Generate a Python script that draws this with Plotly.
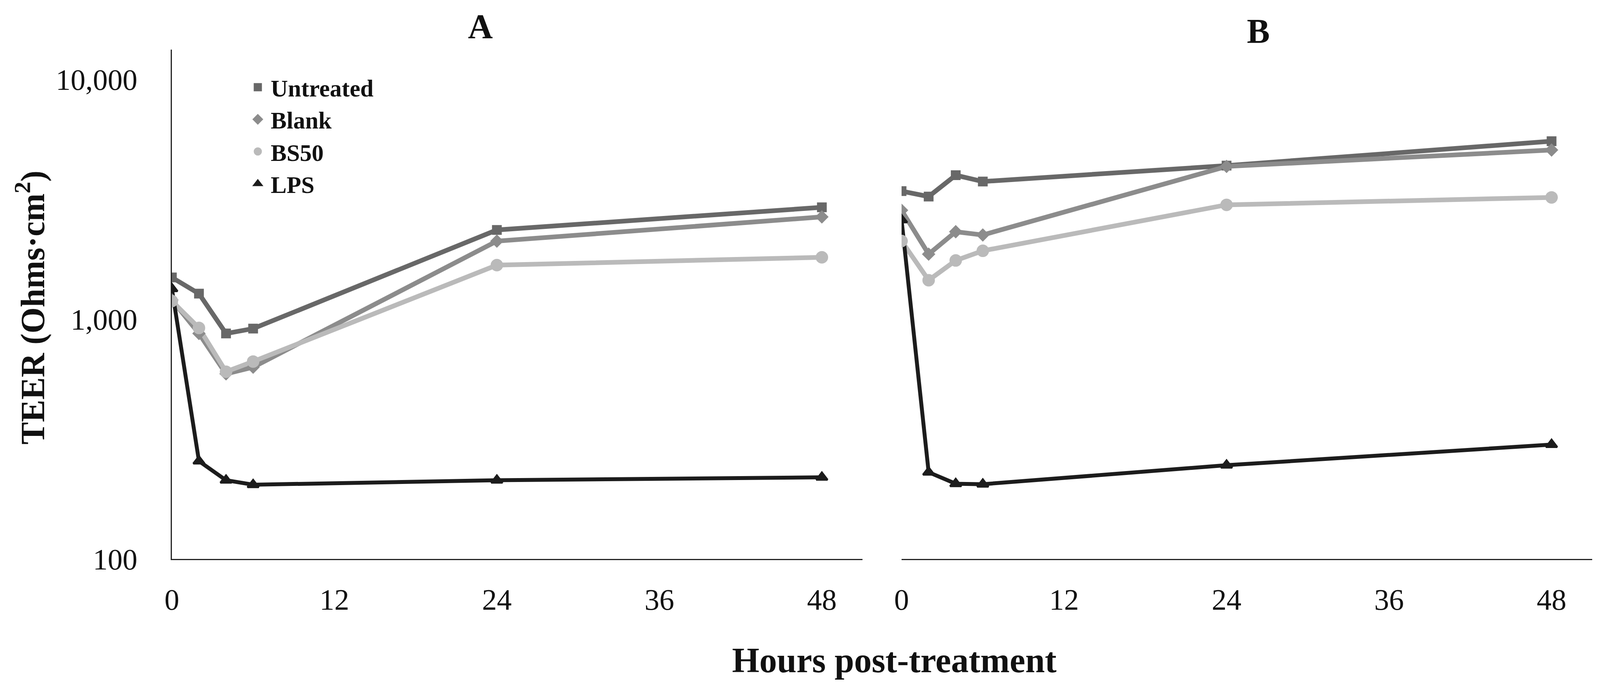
import plotly.graph_objects as go

hours = [0, 2, 4, 6, 24, 48]

a_untreated = [1494, 1279, 872, 914, 2358, 2931]
a_blank = [1204, 872, 592, 631, 2118, 2673]
a_bs50 = [1191, 920, 604, 666, 1682, 1813]
a_lps = [1341, 256, 213, 204, 213, 219]

b_untreated = [3425, 3250, 3990, 3755, 4375, 5530]
b_blank = [2849, 1869, 2319, 2247, 4341, 5082]
b_bs50 = [2121, 1455, 1759, 1930, 3002, 3224]
b_lps = [2598, 230, 206, 205, 246, 300]

series_names = ["Untreated", "Blank", "BS50", "LPS"]
x_ticks = [0, 12, 24, 36, 48]
y_ticks = [100, 1000, 10000]
y_tick_text = ["100", "1,000", "10,000"]

colors = ["#686868", "#8c8c8c", "#bababa", "#1c1c1c"]
symbols = ["square", "diamond", "circle", "triangle-up"]
msizes = [20, 21, 27, 25]
lwidths = [12, 12, 12, 10]

W, H = 4155, 1764
ML, MR, MT, MB = 432, 87, 119, 341
PW = W - ML - MR
PH = H - MT - MB
FONT = "Liberation Serif"


def px(x):
    return (x - ML) / PW


def py(y):
    return 1 - (y - MT) / PH


fig = go.Figure()

panels = [
    ("x", "y", [a_untreated, a_blank, a_bs50, a_lps]),
    ("x2", "y2", [b_untreated, b_blank, b_bs50, b_lps]),
]

for pi, (xa, ya, data) in enumerate(panels):
    for si, vals in enumerate(data):
        fig.add_trace(go.Scatter(
            x=hours, y=vals, xaxis=xa, yaxis=ya, mode="lines",
            line=dict(color=colors[si], width=lwidths[si]),
            showlegend=False, hoverinfo="skip",
        ))
    for si, vals in enumerate(data):
        fig.add_trace(go.Scatter(
            x=hours, y=vals, xaxis=xa, yaxis=ya, mode="markers",
            marker=dict(color=colors[si], symbol=symbols[si], size=msizes[si],
                        line=dict(color=colors[si], width=5)),
            name=series_names[si], showlegend=(pi == 0),
        ))

dA = [0, px(2200)]
dB = [px(2300), 1]

axis_common = dict(
    range=[0, 51], tickvals=x_ticks, showgrid=False, zeroline=False,
    showline=True, linecolor="#222", linewidth=3, ticks="",
    ticklabelstandoff=36,
    tickfont=dict(family=FONT, size=76, color="#111"),
)
fig.update_layout(
    xaxis=dict(domain=dA, anchor="y", **axis_common),
    xaxis2=dict(domain=dB, anchor="y2", **axis_common),
    yaxis=dict(
        type="log", range=[2, 4.125], tickvals=y_ticks, ticktext=y_tick_text,
        showgrid=False, zeroline=False, showline=True, linecolor="#222",
        linewidth=3, ticks="", ticklabelstandoff=70,
        tickfont=dict(family=FONT, size=76, color="#111"),
    ),
    yaxis2=dict(
        type="log", range=[2, 4.125], anchor="x2", showgrid=False,
        zeroline=False, showline=False, showticklabels=False, ticks="",
    ),
    width=W, height=H,
    margin=dict(l=ML, r=MR, t=MT, b=MB, autoexpand=False),
    paper_bgcolor="white", plot_bgcolor="white",
    showlegend=True,
    legend=dict(
        x=px(619), y=py(169),
        xanchor="left", yanchor="top",
        font=dict(family=FONT, size=61, color="#111", weight="bold"),
        bgcolor="rgba(0,0,0,0)", tracegroupgap=0, itemwidth=56,
    ),
)

fig.add_annotation(
    text="<b>A</b>", x=px(1222), y=py(60), xref="paper", yref="paper",
    showarrow=False, xanchor="center", yanchor="middle",
    font=dict(family=FONT, size=88, color="#111"),
)
fig.add_annotation(
    text="<b>B</b>", x=px(3213), y=py(72), xref="paper", yref="paper",
    showarrow=False, xanchor="center", yanchor="middle",
    font=dict(family=FONT, size=88, color="#111"),
)
fig.add_annotation(
    text="<b>Hours post-treatment</b>", x=px(2281), y=py(1682),
    xref="paper", yref="paper", showarrow=False, xanchor="center", yanchor="middle",
    font=dict(family=FONT, size=90, color="#111"),
)
fig.add_annotation(
    text="<b>TEER (Ohms·cm<sup>2</sup>)</b>", x=px(69), y=py(780),
    xref="paper", yref="paper", showarrow=False, xanchor="center", yanchor="middle",
    textangle=-90, font=dict(family=FONT, size=86, color="#111"),
)

fig.write_html("out.html")
